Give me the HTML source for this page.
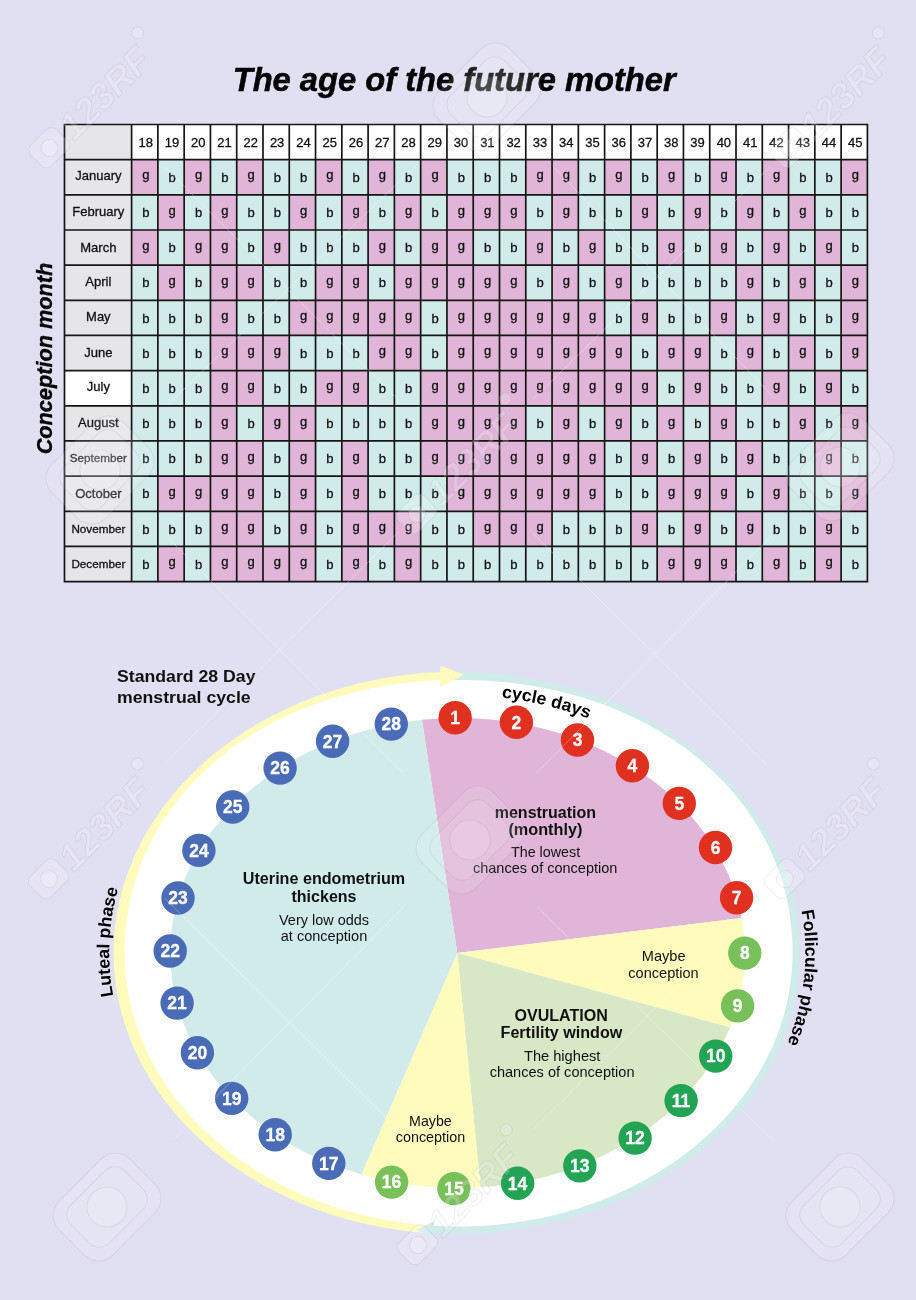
<!DOCTYPE html>
<html lang="en"><head><meta charset="utf-8"><title>The age of the future mother</title>
<style>
html,body{margin:0;padding:0;background:#e1dff2;}
body{width:916px;height:1300px;overflow:hidden;}
svg{display:block;font-family:"Liberation Sans", Arial, Helvetica, sans-serif;}
</style></head><body>
<svg width="916" height="1300" viewBox="0 0 916 1300">
<rect width="916" height="1300" fill="#e1dff2"/>
<rect x="64.5" y="124.5" width="67.10" height="457.10" fill="#e6e6e9"/>
<rect x="131.6" y="124.5" width="735.80" height="35.16" fill="#fff"/>
<rect x="64.5" y="370.63" width="67.10" height="35.16" fill="#fff"/>
<rect x="131.60" y="159.66" width="26.28" height="35.16" fill="#e0b5d7"/>
<rect x="157.88" y="159.66" width="26.28" height="35.16" fill="#d1ebeb"/>
<rect x="184.16" y="159.66" width="26.28" height="35.16" fill="#e0b5d7"/>
<rect x="210.44" y="159.66" width="26.28" height="35.16" fill="#d1ebeb"/>
<rect x="236.71" y="159.66" width="26.28" height="35.16" fill="#e0b5d7"/>
<rect x="262.99" y="159.66" width="52.56" height="35.16" fill="#d1ebeb"/>
<rect x="315.55" y="159.66" width="26.28" height="35.16" fill="#e0b5d7"/>
<rect x="341.83" y="159.66" width="26.28" height="35.16" fill="#d1ebeb"/>
<rect x="368.11" y="159.66" width="26.28" height="35.16" fill="#e0b5d7"/>
<rect x="394.39" y="159.66" width="26.28" height="35.16" fill="#d1ebeb"/>
<rect x="420.66" y="159.66" width="26.28" height="35.16" fill="#e0b5d7"/>
<rect x="446.94" y="159.66" width="78.84" height="35.16" fill="#d1ebeb"/>
<rect x="525.78" y="159.66" width="52.56" height="35.16" fill="#e0b5d7"/>
<rect x="578.34" y="159.66" width="26.28" height="35.16" fill="#d1ebeb"/>
<rect x="604.61" y="159.66" width="26.28" height="35.16" fill="#e0b5d7"/>
<rect x="630.89" y="159.66" width="26.28" height="35.16" fill="#d1ebeb"/>
<rect x="657.17" y="159.66" width="26.28" height="35.16" fill="#e0b5d7"/>
<rect x="683.45" y="159.66" width="26.28" height="35.16" fill="#d1ebeb"/>
<rect x="709.73" y="159.66" width="26.28" height="35.16" fill="#e0b5d7"/>
<rect x="736.01" y="159.66" width="26.28" height="35.16" fill="#d1ebeb"/>
<rect x="762.29" y="159.66" width="26.28" height="35.16" fill="#e0b5d7"/>
<rect x="788.56" y="159.66" width="52.56" height="35.16" fill="#d1ebeb"/>
<rect x="841.12" y="159.66" width="26.28" height="35.16" fill="#e0b5d7"/>
<rect x="131.60" y="194.82" width="26.28" height="35.16" fill="#d1ebeb"/>
<rect x="157.88" y="194.82" width="26.28" height="35.16" fill="#e0b5d7"/>
<rect x="184.16" y="194.82" width="26.28" height="35.16" fill="#d1ebeb"/>
<rect x="210.44" y="194.82" width="26.28" height="35.16" fill="#e0b5d7"/>
<rect x="236.71" y="194.82" width="52.56" height="35.16" fill="#d1ebeb"/>
<rect x="289.27" y="194.82" width="26.28" height="35.16" fill="#e0b5d7"/>
<rect x="315.55" y="194.82" width="26.28" height="35.16" fill="#d1ebeb"/>
<rect x="341.83" y="194.82" width="26.28" height="35.16" fill="#e0b5d7"/>
<rect x="368.11" y="194.82" width="26.28" height="35.16" fill="#d1ebeb"/>
<rect x="394.39" y="194.82" width="26.28" height="35.16" fill="#e0b5d7"/>
<rect x="420.66" y="194.82" width="26.28" height="35.16" fill="#d1ebeb"/>
<rect x="446.94" y="194.82" width="78.84" height="35.16" fill="#e0b5d7"/>
<rect x="525.78" y="194.82" width="26.28" height="35.16" fill="#d1ebeb"/>
<rect x="552.06" y="194.82" width="26.28" height="35.16" fill="#e0b5d7"/>
<rect x="578.34" y="194.82" width="52.56" height="35.16" fill="#d1ebeb"/>
<rect x="630.89" y="194.82" width="26.28" height="35.16" fill="#e0b5d7"/>
<rect x="657.17" y="194.82" width="26.28" height="35.16" fill="#d1ebeb"/>
<rect x="683.45" y="194.82" width="26.28" height="35.16" fill="#e0b5d7"/>
<rect x="709.73" y="194.82" width="26.28" height="35.16" fill="#d1ebeb"/>
<rect x="736.01" y="194.82" width="26.28" height="35.16" fill="#e0b5d7"/>
<rect x="762.29" y="194.82" width="26.28" height="35.16" fill="#d1ebeb"/>
<rect x="788.56" y="194.82" width="26.28" height="35.16" fill="#e0b5d7"/>
<rect x="814.84" y="194.82" width="52.56" height="35.16" fill="#d1ebeb"/>
<rect x="131.60" y="229.98" width="26.28" height="35.16" fill="#e0b5d7"/>
<rect x="157.88" y="229.98" width="26.28" height="35.16" fill="#d1ebeb"/>
<rect x="184.16" y="229.98" width="52.56" height="35.16" fill="#e0b5d7"/>
<rect x="236.71" y="229.98" width="26.28" height="35.16" fill="#d1ebeb"/>
<rect x="262.99" y="229.98" width="26.28" height="35.16" fill="#e0b5d7"/>
<rect x="289.27" y="229.98" width="78.84" height="35.16" fill="#d1ebeb"/>
<rect x="368.11" y="229.98" width="26.28" height="35.16" fill="#e0b5d7"/>
<rect x="394.39" y="229.98" width="26.28" height="35.16" fill="#d1ebeb"/>
<rect x="420.66" y="229.98" width="52.56" height="35.16" fill="#e0b5d7"/>
<rect x="473.22" y="229.98" width="52.56" height="35.16" fill="#d1ebeb"/>
<rect x="525.78" y="229.98" width="26.28" height="35.16" fill="#e0b5d7"/>
<rect x="552.06" y="229.98" width="26.28" height="35.16" fill="#d1ebeb"/>
<rect x="578.34" y="229.98" width="26.28" height="35.16" fill="#e0b5d7"/>
<rect x="604.61" y="229.98" width="52.56" height="35.16" fill="#d1ebeb"/>
<rect x="657.17" y="229.98" width="26.28" height="35.16" fill="#e0b5d7"/>
<rect x="683.45" y="229.98" width="26.28" height="35.16" fill="#d1ebeb"/>
<rect x="709.73" y="229.98" width="26.28" height="35.16" fill="#e0b5d7"/>
<rect x="736.01" y="229.98" width="26.28" height="35.16" fill="#d1ebeb"/>
<rect x="762.29" y="229.98" width="26.28" height="35.16" fill="#e0b5d7"/>
<rect x="788.56" y="229.98" width="26.28" height="35.16" fill="#d1ebeb"/>
<rect x="814.84" y="229.98" width="26.28" height="35.16" fill="#e0b5d7"/>
<rect x="841.12" y="229.98" width="26.28" height="35.16" fill="#d1ebeb"/>
<rect x="131.60" y="265.15" width="26.28" height="35.16" fill="#d1ebeb"/>
<rect x="157.88" y="265.15" width="26.28" height="35.16" fill="#e0b5d7"/>
<rect x="184.16" y="265.15" width="26.28" height="35.16" fill="#d1ebeb"/>
<rect x="210.44" y="265.15" width="52.56" height="35.16" fill="#e0b5d7"/>
<rect x="262.99" y="265.15" width="52.56" height="35.16" fill="#d1ebeb"/>
<rect x="315.55" y="265.15" width="52.56" height="35.16" fill="#e0b5d7"/>
<rect x="368.11" y="265.15" width="26.28" height="35.16" fill="#d1ebeb"/>
<rect x="394.39" y="265.15" width="131.39" height="35.16" fill="#e0b5d7"/>
<rect x="525.78" y="265.15" width="26.28" height="35.16" fill="#d1ebeb"/>
<rect x="552.06" y="265.15" width="26.28" height="35.16" fill="#e0b5d7"/>
<rect x="578.34" y="265.15" width="26.28" height="35.16" fill="#d1ebeb"/>
<rect x="604.61" y="265.15" width="26.28" height="35.16" fill="#e0b5d7"/>
<rect x="630.89" y="265.15" width="105.11" height="35.16" fill="#d1ebeb"/>
<rect x="736.01" y="265.15" width="26.28" height="35.16" fill="#e0b5d7"/>
<rect x="762.29" y="265.15" width="26.28" height="35.16" fill="#d1ebeb"/>
<rect x="788.56" y="265.15" width="26.28" height="35.16" fill="#e0b5d7"/>
<rect x="814.84" y="265.15" width="26.28" height="35.16" fill="#d1ebeb"/>
<rect x="841.12" y="265.15" width="26.28" height="35.16" fill="#e0b5d7"/>
<rect x="131.60" y="300.31" width="78.84" height="35.16" fill="#d1ebeb"/>
<rect x="210.44" y="300.31" width="26.28" height="35.16" fill="#e0b5d7"/>
<rect x="236.71" y="300.31" width="52.56" height="35.16" fill="#d1ebeb"/>
<rect x="289.27" y="300.31" width="131.39" height="35.16" fill="#e0b5d7"/>
<rect x="420.66" y="300.31" width="26.28" height="35.16" fill="#d1ebeb"/>
<rect x="446.94" y="300.31" width="157.67" height="35.16" fill="#e0b5d7"/>
<rect x="604.61" y="300.31" width="26.28" height="35.16" fill="#d1ebeb"/>
<rect x="630.89" y="300.31" width="26.28" height="35.16" fill="#e0b5d7"/>
<rect x="657.17" y="300.31" width="52.56" height="35.16" fill="#d1ebeb"/>
<rect x="709.73" y="300.31" width="26.28" height="35.16" fill="#e0b5d7"/>
<rect x="736.01" y="300.31" width="26.28" height="35.16" fill="#d1ebeb"/>
<rect x="762.29" y="300.31" width="26.28" height="35.16" fill="#e0b5d7"/>
<rect x="788.56" y="300.31" width="52.56" height="35.16" fill="#d1ebeb"/>
<rect x="841.12" y="300.31" width="26.28" height="35.16" fill="#e0b5d7"/>
<rect x="131.60" y="335.47" width="78.84" height="35.16" fill="#d1ebeb"/>
<rect x="210.44" y="335.47" width="78.84" height="35.16" fill="#e0b5d7"/>
<rect x="289.27" y="335.47" width="78.84" height="35.16" fill="#d1ebeb"/>
<rect x="368.11" y="335.47" width="52.56" height="35.16" fill="#e0b5d7"/>
<rect x="420.66" y="335.47" width="26.28" height="35.16" fill="#d1ebeb"/>
<rect x="446.94" y="335.47" width="183.95" height="35.16" fill="#e0b5d7"/>
<rect x="630.89" y="335.47" width="26.28" height="35.16" fill="#d1ebeb"/>
<rect x="657.17" y="335.47" width="52.56" height="35.16" fill="#e0b5d7"/>
<rect x="709.73" y="335.47" width="26.28" height="35.16" fill="#d1ebeb"/>
<rect x="736.01" y="335.47" width="26.28" height="35.16" fill="#e0b5d7"/>
<rect x="762.29" y="335.47" width="26.28" height="35.16" fill="#d1ebeb"/>
<rect x="788.56" y="335.47" width="26.28" height="35.16" fill="#e0b5d7"/>
<rect x="814.84" y="335.47" width="26.28" height="35.16" fill="#d1ebeb"/>
<rect x="841.12" y="335.47" width="26.28" height="35.16" fill="#e0b5d7"/>
<rect x="131.60" y="370.63" width="78.84" height="35.16" fill="#d1ebeb"/>
<rect x="210.44" y="370.63" width="52.56" height="35.16" fill="#e0b5d7"/>
<rect x="262.99" y="370.63" width="52.56" height="35.16" fill="#d1ebeb"/>
<rect x="315.55" y="370.63" width="52.56" height="35.16" fill="#e0b5d7"/>
<rect x="368.11" y="370.63" width="52.56" height="35.16" fill="#d1ebeb"/>
<rect x="420.66" y="370.63" width="236.51" height="35.16" fill="#e0b5d7"/>
<rect x="657.17" y="370.63" width="26.28" height="35.16" fill="#d1ebeb"/>
<rect x="683.45" y="370.63" width="26.28" height="35.16" fill="#e0b5d7"/>
<rect x="709.73" y="370.63" width="52.56" height="35.16" fill="#d1ebeb"/>
<rect x="762.29" y="370.63" width="26.28" height="35.16" fill="#e0b5d7"/>
<rect x="788.56" y="370.63" width="26.28" height="35.16" fill="#d1ebeb"/>
<rect x="814.84" y="370.63" width="26.28" height="35.16" fill="#e0b5d7"/>
<rect x="841.12" y="370.63" width="26.28" height="35.16" fill="#d1ebeb"/>
<rect x="131.60" y="405.79" width="78.84" height="35.16" fill="#d1ebeb"/>
<rect x="210.44" y="405.79" width="26.28" height="35.16" fill="#e0b5d7"/>
<rect x="236.71" y="405.79" width="26.28" height="35.16" fill="#d1ebeb"/>
<rect x="262.99" y="405.79" width="52.56" height="35.16" fill="#e0b5d7"/>
<rect x="315.55" y="405.79" width="105.11" height="35.16" fill="#d1ebeb"/>
<rect x="420.66" y="405.79" width="105.11" height="35.16" fill="#e0b5d7"/>
<rect x="525.78" y="405.79" width="26.28" height="35.16" fill="#d1ebeb"/>
<rect x="552.06" y="405.79" width="26.28" height="35.16" fill="#e0b5d7"/>
<rect x="578.34" y="405.79" width="26.28" height="35.16" fill="#d1ebeb"/>
<rect x="604.61" y="405.79" width="26.28" height="35.16" fill="#e0b5d7"/>
<rect x="630.89" y="405.79" width="26.28" height="35.16" fill="#d1ebeb"/>
<rect x="657.17" y="405.79" width="26.28" height="35.16" fill="#e0b5d7"/>
<rect x="683.45" y="405.79" width="26.28" height="35.16" fill="#d1ebeb"/>
<rect x="709.73" y="405.79" width="26.28" height="35.16" fill="#e0b5d7"/>
<rect x="736.01" y="405.79" width="52.56" height="35.16" fill="#d1ebeb"/>
<rect x="788.56" y="405.79" width="26.28" height="35.16" fill="#e0b5d7"/>
<rect x="814.84" y="405.79" width="26.28" height="35.16" fill="#d1ebeb"/>
<rect x="841.12" y="405.79" width="26.28" height="35.16" fill="#e0b5d7"/>
<rect x="131.60" y="440.95" width="78.84" height="35.16" fill="#d1ebeb"/>
<rect x="210.44" y="440.95" width="52.56" height="35.16" fill="#e0b5d7"/>
<rect x="262.99" y="440.95" width="26.28" height="35.16" fill="#d1ebeb"/>
<rect x="289.27" y="440.95" width="26.28" height="35.16" fill="#e0b5d7"/>
<rect x="315.55" y="440.95" width="26.28" height="35.16" fill="#d1ebeb"/>
<rect x="341.83" y="440.95" width="26.28" height="35.16" fill="#e0b5d7"/>
<rect x="368.11" y="440.95" width="52.56" height="35.16" fill="#d1ebeb"/>
<rect x="420.66" y="440.95" width="183.95" height="35.16" fill="#e0b5d7"/>
<rect x="604.61" y="440.95" width="26.28" height="35.16" fill="#d1ebeb"/>
<rect x="630.89" y="440.95" width="26.28" height="35.16" fill="#e0b5d7"/>
<rect x="657.17" y="440.95" width="26.28" height="35.16" fill="#d1ebeb"/>
<rect x="683.45" y="440.95" width="26.28" height="35.16" fill="#e0b5d7"/>
<rect x="709.73" y="440.95" width="26.28" height="35.16" fill="#d1ebeb"/>
<rect x="736.01" y="440.95" width="26.28" height="35.16" fill="#e0b5d7"/>
<rect x="762.29" y="440.95" width="52.56" height="35.16" fill="#d1ebeb"/>
<rect x="814.84" y="440.95" width="26.28" height="35.16" fill="#e0b5d7"/>
<rect x="841.12" y="440.95" width="26.28" height="35.16" fill="#d1ebeb"/>
<rect x="131.60" y="476.12" width="26.28" height="35.16" fill="#d1ebeb"/>
<rect x="157.88" y="476.12" width="105.11" height="35.16" fill="#e0b5d7"/>
<rect x="262.99" y="476.12" width="26.28" height="35.16" fill="#d1ebeb"/>
<rect x="289.27" y="476.12" width="26.28" height="35.16" fill="#e0b5d7"/>
<rect x="315.55" y="476.12" width="26.28" height="35.16" fill="#d1ebeb"/>
<rect x="341.83" y="476.12" width="26.28" height="35.16" fill="#e0b5d7"/>
<rect x="368.11" y="476.12" width="78.84" height="35.16" fill="#d1ebeb"/>
<rect x="446.94" y="476.12" width="157.67" height="35.16" fill="#e0b5d7"/>
<rect x="604.61" y="476.12" width="52.56" height="35.16" fill="#d1ebeb"/>
<rect x="657.17" y="476.12" width="78.84" height="35.16" fill="#e0b5d7"/>
<rect x="736.01" y="476.12" width="26.28" height="35.16" fill="#d1ebeb"/>
<rect x="762.29" y="476.12" width="26.28" height="35.16" fill="#e0b5d7"/>
<rect x="788.56" y="476.12" width="52.56" height="35.16" fill="#d1ebeb"/>
<rect x="841.12" y="476.12" width="26.28" height="35.16" fill="#e0b5d7"/>
<rect x="131.60" y="511.28" width="78.84" height="35.16" fill="#d1ebeb"/>
<rect x="210.44" y="511.28" width="52.56" height="35.16" fill="#e0b5d7"/>
<rect x="262.99" y="511.28" width="26.28" height="35.16" fill="#d1ebeb"/>
<rect x="289.27" y="511.28" width="26.28" height="35.16" fill="#e0b5d7"/>
<rect x="315.55" y="511.28" width="26.28" height="35.16" fill="#d1ebeb"/>
<rect x="341.83" y="511.28" width="78.84" height="35.16" fill="#e0b5d7"/>
<rect x="420.66" y="511.28" width="52.56" height="35.16" fill="#d1ebeb"/>
<rect x="473.22" y="511.28" width="78.84" height="35.16" fill="#e0b5d7"/>
<rect x="552.06" y="511.28" width="78.84" height="35.16" fill="#d1ebeb"/>
<rect x="630.89" y="511.28" width="26.28" height="35.16" fill="#e0b5d7"/>
<rect x="657.17" y="511.28" width="26.28" height="35.16" fill="#d1ebeb"/>
<rect x="683.45" y="511.28" width="26.28" height="35.16" fill="#e0b5d7"/>
<rect x="709.73" y="511.28" width="26.28" height="35.16" fill="#d1ebeb"/>
<rect x="736.01" y="511.28" width="26.28" height="35.16" fill="#e0b5d7"/>
<rect x="762.29" y="511.28" width="52.56" height="35.16" fill="#d1ebeb"/>
<rect x="814.84" y="511.28" width="26.28" height="35.16" fill="#e0b5d7"/>
<rect x="841.12" y="511.28" width="26.28" height="35.16" fill="#d1ebeb"/>
<rect x="131.60" y="546.44" width="26.28" height="35.16" fill="#d1ebeb"/>
<rect x="157.88" y="546.44" width="26.28" height="35.16" fill="#e0b5d7"/>
<rect x="184.16" y="546.44" width="26.28" height="35.16" fill="#d1ebeb"/>
<rect x="210.44" y="546.44" width="105.11" height="35.16" fill="#e0b5d7"/>
<rect x="315.55" y="546.44" width="26.28" height="35.16" fill="#d1ebeb"/>
<rect x="341.83" y="546.44" width="26.28" height="35.16" fill="#e0b5d7"/>
<rect x="368.11" y="546.44" width="26.28" height="35.16" fill="#d1ebeb"/>
<rect x="394.39" y="546.44" width="26.28" height="35.16" fill="#e0b5d7"/>
<rect x="420.66" y="546.44" width="236.51" height="35.16" fill="#d1ebeb"/>
<rect x="657.17" y="546.44" width="78.84" height="35.16" fill="#e0b5d7"/>
<rect x="736.01" y="546.44" width="26.28" height="35.16" fill="#d1ebeb"/>
<rect x="762.29" y="546.44" width="26.28" height="35.16" fill="#e0b5d7"/>
<rect x="788.56" y="546.44" width="26.28" height="35.16" fill="#d1ebeb"/>
<rect x="814.84" y="546.44" width="26.28" height="35.16" fill="#e0b5d7"/>
<rect x="841.12" y="546.44" width="26.28" height="35.16" fill="#d1ebeb"/>
<path d="M131.60 124.5V581.6M157.88 124.5V581.6M184.16 124.5V581.6M210.44 124.5V581.6M236.71 124.5V581.6M262.99 124.5V581.6M289.27 124.5V581.6M315.55 124.5V581.6M341.83 124.5V581.6M368.11 124.5V581.6M394.39 124.5V581.6M420.66 124.5V581.6M446.94 124.5V581.6M473.22 124.5V581.6M499.50 124.5V581.6M525.78 124.5V581.6M552.06 124.5V581.6M578.34 124.5V581.6M604.61 124.5V581.6M630.89 124.5V581.6M657.17 124.5V581.6M683.45 124.5V581.6M709.73 124.5V581.6M736.01 124.5V581.6M762.29 124.5V581.6M788.56 124.5V581.6M814.84 124.5V581.6M841.12 124.5V581.6M867.40 124.5V581.6M64.5 124.5V581.6M64.5 124.50H867.4M64.5 159.66H867.4M64.5 194.82H867.4M64.5 229.98H867.4M64.5 265.15H867.4M64.5 300.31H867.4M64.5 335.47H867.4M64.5 370.63H867.4M64.5 405.79H867.4M64.5 440.95H867.4M64.5 476.12H867.4M64.5 511.28H867.4M64.5 546.44H867.4M64.5 581.60H867.4" stroke="#161616" stroke-width="1.7" fill="none" stroke-linecap="square"/>
<g font-size="13" text-anchor="middle" fill="#111" stroke="#111" stroke-width="0.3">
<text x="145.74" y="146.90">18</text>
<text x="172.02" y="146.90">19</text>
<text x="198.30" y="146.90">20</text>
<text x="224.57" y="146.90">21</text>
<text x="250.85" y="146.90">22</text>
<text x="277.13" y="146.90">23</text>
<text x="303.41" y="146.90">24</text>
<text x="329.69" y="146.90">25</text>
<text x="355.97" y="146.90">26</text>
<text x="382.25" y="146.90">27</text>
<text x="408.52" y="146.90">28</text>
<text x="434.80" y="146.90">29</text>
<text x="461.08" y="146.90">30</text>
<text x="487.36" y="146.90">31</text>
<text x="513.64" y="146.90">32</text>
<text x="539.92" y="146.90">33</text>
<text x="566.20" y="146.90">34</text>
<text x="592.48" y="146.90">35</text>
<text x="618.75" y="146.90">36</text>
<text x="645.03" y="146.90">37</text>
<text x="671.31" y="146.90">38</text>
<text x="697.59" y="146.90">39</text>
<text x="723.87" y="146.90">40</text>
<text x="750.15" y="146.90">41</text>
<text x="776.43" y="146.90">42</text>
<text x="802.70" y="146.90">43</text>
<text x="828.98" y="146.90">44</text>
<text x="855.26" y="146.90">45</text>
</g>
<text x="98.35" y="180.46" font-size="13" text-anchor="middle" fill="#111" stroke="#111" stroke-width="0.3">January</text>
<text x="98.35" y="215.62" font-size="13" text-anchor="middle" fill="#111" stroke="#111" stroke-width="0.3">February</text>
<text x="98.35" y="251.98" font-size="13" text-anchor="middle" fill="#111" stroke="#111" stroke-width="0.3">March</text>
<text x="98.35" y="285.95" font-size="13" text-anchor="middle" fill="#111" stroke="#111" stroke-width="0.3">April</text>
<text x="98.35" y="321.11" font-size="13" text-anchor="middle" fill="#111" stroke="#111" stroke-width="0.3">May</text>
<text x="98.35" y="357.47" font-size="13" text-anchor="middle" fill="#111" stroke="#111" stroke-width="0.3">June</text>
<text x="98.35" y="391.43" font-size="13" text-anchor="middle" fill="#111" stroke="#111" stroke-width="0.3">July</text>
<text x="98.35" y="426.59" font-size="13" text-anchor="middle" fill="#111" stroke="#111" stroke-width="0.3">August</text>
<text x="98.35" y="461.75" font-size="11.7" text-anchor="middle" fill="#111" stroke="#111" stroke-width="0.3">September</text>
<text x="98.35" y="498.12" font-size="13" text-anchor="middle" fill="#111" stroke="#111" stroke-width="0.3">October</text>
<text x="98.35" y="533.28" font-size="11.7" text-anchor="middle" fill="#111" stroke="#111" stroke-width="0.3">November</text>
<text x="98.35" y="568.44" font-size="11.7" text-anchor="middle" fill="#111" stroke="#111" stroke-width="0.3">December</text>
<g font-size="13" text-anchor="middle" fill="#111" stroke="#111" stroke-width="0.3">
<text x="145.94" y="179.46">g</text>
<text x="172.22" y="181.96">b</text>
<text x="198.50" y="179.46">g</text>
<text x="224.77" y="181.96">b</text>
<text x="251.05" y="179.46">g</text>
<text x="277.33" y="181.96">b</text>
<text x="303.61" y="181.96">b</text>
<text x="329.89" y="179.46">g</text>
<text x="356.17" y="181.96">b</text>
<text x="382.45" y="179.46">g</text>
<text x="408.72" y="181.96">b</text>
<text x="435.00" y="179.46">g</text>
<text x="461.28" y="181.96">b</text>
<text x="487.56" y="181.96">b</text>
<text x="513.84" y="181.96">b</text>
<text x="540.12" y="179.46">g</text>
<text x="566.40" y="179.46">g</text>
<text x="592.68" y="181.96">b</text>
<text x="618.95" y="179.46">g</text>
<text x="645.23" y="181.96">b</text>
<text x="671.51" y="179.46">g</text>
<text x="697.79" y="181.96">b</text>
<text x="724.07" y="179.46">g</text>
<text x="750.35" y="181.96">b</text>
<text x="776.63" y="179.46">g</text>
<text x="802.90" y="181.96">b</text>
<text x="829.18" y="181.96">b</text>
<text x="855.46" y="179.46">g</text>
<text x="145.94" y="217.12">b</text>
<text x="172.22" y="214.62">g</text>
<text x="198.50" y="217.12">b</text>
<text x="224.77" y="214.62">g</text>
<text x="251.05" y="217.12">b</text>
<text x="277.33" y="217.12">b</text>
<text x="303.61" y="214.62">g</text>
<text x="329.89" y="217.12">b</text>
<text x="356.17" y="214.62">g</text>
<text x="382.45" y="217.12">b</text>
<text x="408.72" y="214.62">g</text>
<text x="435.00" y="217.12">b</text>
<text x="461.28" y="214.62">g</text>
<text x="487.56" y="214.62">g</text>
<text x="513.84" y="214.62">g</text>
<text x="540.12" y="217.12">b</text>
<text x="566.40" y="214.62">g</text>
<text x="592.68" y="217.12">b</text>
<text x="618.95" y="217.12">b</text>
<text x="645.23" y="214.62">g</text>
<text x="671.51" y="217.12">b</text>
<text x="697.79" y="214.62">g</text>
<text x="724.07" y="217.12">b</text>
<text x="750.35" y="214.62">g</text>
<text x="776.63" y="217.12">b</text>
<text x="802.90" y="214.62">g</text>
<text x="829.18" y="217.12">b</text>
<text x="855.46" y="217.12">b</text>
<text x="145.94" y="249.78">g</text>
<text x="172.22" y="252.28">b</text>
<text x="198.50" y="249.78">g</text>
<text x="224.77" y="249.78">g</text>
<text x="251.05" y="252.28">b</text>
<text x="277.33" y="249.78">g</text>
<text x="303.61" y="252.28">b</text>
<text x="329.89" y="252.28">b</text>
<text x="356.17" y="252.28">b</text>
<text x="382.45" y="249.78">g</text>
<text x="408.72" y="252.28">b</text>
<text x="435.00" y="249.78">g</text>
<text x="461.28" y="249.78">g</text>
<text x="487.56" y="252.28">b</text>
<text x="513.84" y="252.28">b</text>
<text x="540.12" y="249.78">g</text>
<text x="566.40" y="252.28">b</text>
<text x="592.68" y="249.78">g</text>
<text x="618.95" y="252.28">b</text>
<text x="645.23" y="252.28">b</text>
<text x="671.51" y="249.78">g</text>
<text x="697.79" y="252.28">b</text>
<text x="724.07" y="249.78">g</text>
<text x="750.35" y="252.28">b</text>
<text x="776.63" y="249.78">g</text>
<text x="802.90" y="252.28">b</text>
<text x="829.18" y="249.78">g</text>
<text x="855.46" y="252.28">b</text>
<text x="145.94" y="287.45">b</text>
<text x="172.22" y="284.95">g</text>
<text x="198.50" y="287.45">b</text>
<text x="224.77" y="284.95">g</text>
<text x="251.05" y="284.95">g</text>
<text x="277.33" y="287.45">b</text>
<text x="303.61" y="287.45">b</text>
<text x="329.89" y="284.95">g</text>
<text x="356.17" y="284.95">g</text>
<text x="382.45" y="287.45">b</text>
<text x="408.72" y="284.95">g</text>
<text x="435.00" y="284.95">g</text>
<text x="461.28" y="284.95">g</text>
<text x="487.56" y="284.95">g</text>
<text x="513.84" y="284.95">g</text>
<text x="540.12" y="287.45">b</text>
<text x="566.40" y="284.95">g</text>
<text x="592.68" y="287.45">b</text>
<text x="618.95" y="284.95">g</text>
<text x="645.23" y="287.45">b</text>
<text x="671.51" y="287.45">b</text>
<text x="697.79" y="287.45">b</text>
<text x="724.07" y="287.45">b</text>
<text x="750.35" y="284.95">g</text>
<text x="776.63" y="287.45">b</text>
<text x="802.90" y="284.95">g</text>
<text x="829.18" y="287.45">b</text>
<text x="855.46" y="284.95">g</text>
<text x="145.94" y="322.61">b</text>
<text x="172.22" y="322.61">b</text>
<text x="198.50" y="322.61">b</text>
<text x="224.77" y="320.11">g</text>
<text x="251.05" y="322.61">b</text>
<text x="277.33" y="322.61">b</text>
<text x="303.61" y="320.11">g</text>
<text x="329.89" y="320.11">g</text>
<text x="356.17" y="320.11">g</text>
<text x="382.45" y="320.11">g</text>
<text x="408.72" y="320.11">g</text>
<text x="435.00" y="322.61">b</text>
<text x="461.28" y="320.11">g</text>
<text x="487.56" y="320.11">g</text>
<text x="513.84" y="320.11">g</text>
<text x="540.12" y="320.11">g</text>
<text x="566.40" y="320.11">g</text>
<text x="592.68" y="320.11">g</text>
<text x="618.95" y="322.61">b</text>
<text x="645.23" y="320.11">g</text>
<text x="671.51" y="322.61">b</text>
<text x="697.79" y="322.61">b</text>
<text x="724.07" y="320.11">g</text>
<text x="750.35" y="322.61">b</text>
<text x="776.63" y="320.11">g</text>
<text x="802.90" y="322.61">b</text>
<text x="829.18" y="322.61">b</text>
<text x="855.46" y="320.11">g</text>
<text x="145.94" y="357.77">b</text>
<text x="172.22" y="357.77">b</text>
<text x="198.50" y="357.77">b</text>
<text x="224.77" y="355.27">g</text>
<text x="251.05" y="355.27">g</text>
<text x="277.33" y="355.27">g</text>
<text x="303.61" y="357.77">b</text>
<text x="329.89" y="357.77">b</text>
<text x="356.17" y="357.77">b</text>
<text x="382.45" y="355.27">g</text>
<text x="408.72" y="355.27">g</text>
<text x="435.00" y="357.77">b</text>
<text x="461.28" y="355.27">g</text>
<text x="487.56" y="355.27">g</text>
<text x="513.84" y="355.27">g</text>
<text x="540.12" y="355.27">g</text>
<text x="566.40" y="355.27">g</text>
<text x="592.68" y="355.27">g</text>
<text x="618.95" y="355.27">g</text>
<text x="645.23" y="357.77">b</text>
<text x="671.51" y="355.27">g</text>
<text x="697.79" y="355.27">g</text>
<text x="724.07" y="357.77">b</text>
<text x="750.35" y="355.27">g</text>
<text x="776.63" y="357.77">b</text>
<text x="802.90" y="355.27">g</text>
<text x="829.18" y="357.77">b</text>
<text x="855.46" y="355.27">g</text>
<text x="145.94" y="392.93">b</text>
<text x="172.22" y="392.93">b</text>
<text x="198.50" y="392.93">b</text>
<text x="224.77" y="390.43">g</text>
<text x="251.05" y="390.43">g</text>
<text x="277.33" y="392.93">b</text>
<text x="303.61" y="392.93">b</text>
<text x="329.89" y="390.43">g</text>
<text x="356.17" y="390.43">g</text>
<text x="382.45" y="392.93">b</text>
<text x="408.72" y="392.93">b</text>
<text x="435.00" y="390.43">g</text>
<text x="461.28" y="390.43">g</text>
<text x="487.56" y="390.43">g</text>
<text x="513.84" y="390.43">g</text>
<text x="540.12" y="390.43">g</text>
<text x="566.40" y="390.43">g</text>
<text x="592.68" y="390.43">g</text>
<text x="618.95" y="390.43">g</text>
<text x="645.23" y="390.43">g</text>
<text x="671.51" y="392.93">b</text>
<text x="697.79" y="390.43">g</text>
<text x="724.07" y="392.93">b</text>
<text x="750.35" y="392.93">b</text>
<text x="776.63" y="390.43">g</text>
<text x="802.90" y="392.93">b</text>
<text x="829.18" y="390.43">g</text>
<text x="855.46" y="392.93">b</text>
<text x="145.94" y="428.09">b</text>
<text x="172.22" y="428.09">b</text>
<text x="198.50" y="428.09">b</text>
<text x="224.77" y="425.59">g</text>
<text x="251.05" y="428.09">b</text>
<text x="277.33" y="425.59">g</text>
<text x="303.61" y="425.59">g</text>
<text x="329.89" y="428.09">b</text>
<text x="356.17" y="428.09">b</text>
<text x="382.45" y="428.09">b</text>
<text x="408.72" y="428.09">b</text>
<text x="435.00" y="425.59">g</text>
<text x="461.28" y="425.59">g</text>
<text x="487.56" y="425.59">g</text>
<text x="513.84" y="425.59">g</text>
<text x="540.12" y="428.09">b</text>
<text x="566.40" y="425.59">g</text>
<text x="592.68" y="428.09">b</text>
<text x="618.95" y="425.59">g</text>
<text x="645.23" y="428.09">b</text>
<text x="671.51" y="425.59">g</text>
<text x="697.79" y="428.09">b</text>
<text x="724.07" y="425.59">g</text>
<text x="750.35" y="428.09">b</text>
<text x="776.63" y="428.09">b</text>
<text x="802.90" y="425.59">g</text>
<text x="829.18" y="428.09">b</text>
<text x="855.46" y="425.59">g</text>
<text x="145.94" y="463.25">b</text>
<text x="172.22" y="463.25">b</text>
<text x="198.50" y="463.25">b</text>
<text x="224.77" y="460.75">g</text>
<text x="251.05" y="460.75">g</text>
<text x="277.33" y="463.25">b</text>
<text x="303.61" y="460.75">g</text>
<text x="329.89" y="463.25">b</text>
<text x="356.17" y="460.75">g</text>
<text x="382.45" y="463.25">b</text>
<text x="408.72" y="463.25">b</text>
<text x="435.00" y="460.75">g</text>
<text x="461.28" y="460.75">g</text>
<text x="487.56" y="460.75">g</text>
<text x="513.84" y="460.75">g</text>
<text x="540.12" y="460.75">g</text>
<text x="566.40" y="460.75">g</text>
<text x="592.68" y="460.75">g</text>
<text x="618.95" y="463.25">b</text>
<text x="645.23" y="460.75">g</text>
<text x="671.51" y="463.25">b</text>
<text x="697.79" y="460.75">g</text>
<text x="724.07" y="463.25">b</text>
<text x="750.35" y="460.75">g</text>
<text x="776.63" y="463.25">b</text>
<text x="802.90" y="463.25">b</text>
<text x="829.18" y="460.75">g</text>
<text x="855.46" y="463.25">b</text>
<text x="145.94" y="498.42">b</text>
<text x="172.22" y="495.92">g</text>
<text x="198.50" y="495.92">g</text>
<text x="224.77" y="495.92">g</text>
<text x="251.05" y="495.92">g</text>
<text x="277.33" y="498.42">b</text>
<text x="303.61" y="495.92">g</text>
<text x="329.89" y="498.42">b</text>
<text x="356.17" y="495.92">g</text>
<text x="382.45" y="498.42">b</text>
<text x="408.72" y="498.42">b</text>
<text x="435.00" y="498.42">b</text>
<text x="461.28" y="495.92">g</text>
<text x="487.56" y="495.92">g</text>
<text x="513.84" y="495.92">g</text>
<text x="540.12" y="495.92">g</text>
<text x="566.40" y="495.92">g</text>
<text x="592.68" y="495.92">g</text>
<text x="618.95" y="498.42">b</text>
<text x="645.23" y="498.42">b</text>
<text x="671.51" y="495.92">g</text>
<text x="697.79" y="495.92">g</text>
<text x="724.07" y="495.92">g</text>
<text x="750.35" y="498.42">b</text>
<text x="776.63" y="495.92">g</text>
<text x="802.90" y="498.42">b</text>
<text x="829.18" y="498.42">b</text>
<text x="855.46" y="495.92">g</text>
<text x="145.94" y="533.58">b</text>
<text x="172.22" y="533.58">b</text>
<text x="198.50" y="533.58">b</text>
<text x="224.77" y="531.08">g</text>
<text x="251.05" y="531.08">g</text>
<text x="277.33" y="533.58">b</text>
<text x="303.61" y="531.08">g</text>
<text x="329.89" y="533.58">b</text>
<text x="356.17" y="531.08">g</text>
<text x="382.45" y="531.08">g</text>
<text x="408.72" y="531.08">g</text>
<text x="435.00" y="533.58">b</text>
<text x="461.28" y="533.58">b</text>
<text x="487.56" y="531.08">g</text>
<text x="513.84" y="531.08">g</text>
<text x="540.12" y="531.08">g</text>
<text x="566.40" y="533.58">b</text>
<text x="592.68" y="533.58">b</text>
<text x="618.95" y="533.58">b</text>
<text x="645.23" y="531.08">g</text>
<text x="671.51" y="533.58">b</text>
<text x="697.79" y="531.08">g</text>
<text x="724.07" y="533.58">b</text>
<text x="750.35" y="531.08">g</text>
<text x="776.63" y="533.58">b</text>
<text x="802.90" y="533.58">b</text>
<text x="829.18" y="531.08">g</text>
<text x="855.46" y="533.58">b</text>
<text x="145.94" y="568.74">b</text>
<text x="172.22" y="566.24">g</text>
<text x="198.50" y="568.74">b</text>
<text x="224.77" y="566.24">g</text>
<text x="251.05" y="566.24">g</text>
<text x="277.33" y="566.24">g</text>
<text x="303.61" y="566.24">g</text>
<text x="329.89" y="568.74">b</text>
<text x="356.17" y="566.24">g</text>
<text x="382.45" y="568.74">b</text>
<text x="408.72" y="566.24">g</text>
<text x="435.00" y="568.74">b</text>
<text x="461.28" y="568.74">b</text>
<text x="487.56" y="568.74">b</text>
<text x="513.84" y="568.74">b</text>
<text x="540.12" y="568.74">b</text>
<text x="566.40" y="568.74">b</text>
<text x="592.68" y="568.74">b</text>
<text x="618.95" y="568.74">b</text>
<text x="645.23" y="568.74">b</text>
<text x="671.51" y="566.24">g</text>
<text x="697.79" y="566.24">g</text>
<text x="724.07" y="566.24">g</text>
<text x="750.35" y="568.74">b</text>
<text x="776.63" y="566.24">g</text>
<text x="802.90" y="568.74">b</text>
<text x="829.18" y="566.24">g</text>
<text x="855.46" y="568.74">b</text>
</g>
<text x="454.2" y="91" font-size="33" font-weight="bold" font-style="italic" text-anchor="middle" textLength="443" lengthAdjust="spacingAndGlyphs" fill="#000" stroke="#000" stroke-width="0.5">The age of the future mother</text>
<text transform="translate(51.5 358.6) rotate(-90)" font-size="21.5" font-weight="bold" font-style="italic" text-anchor="middle" textLength="191.5" lengthAdjust="spacingAndGlyphs" fill="#000" stroke="#000" stroke-width="0.35">Conception month</text>
<path d="M800.0 952.9L799.9 957.8L799.8 962.7L799.5 967.6L799.2 972.5L798.7 977.4L798.1 982.2L797.4 987.1L796.7 992.0L795.8 996.8L794.8 1001.7L793.7 1006.5L792.5 1011.3L791.2 1016.1L789.8 1020.9L788.3 1025.6L786.7 1030.3L785.0 1035.1L783.2 1039.7L781.3 1044.4L779.3 1049.0L777.2 1053.6L775.0 1058.2L772.7 1062.7L770.3 1067.2L767.8 1071.7L765.3 1076.1L762.6 1080.5L759.8 1084.8L757.0 1089.2L754.0 1093.4L751.0 1097.7L747.9 1101.8L744.6 1106.0L741.3 1110.1L737.9 1114.1L734.5 1118.1L730.9 1122.1L727.2 1125.9L723.5 1129.8L719.7 1133.6L715.8 1137.3L711.8 1141.0L707.8 1144.6L703.7 1148.2L699.5 1151.7L695.2 1155.1L690.9 1158.5L686.4 1161.8L682.0 1165.0L677.4 1168.2L672.8 1171.3L668.1 1174.4L663.3 1177.4L658.5 1180.3L653.7 1183.2L648.7 1185.9L643.7 1188.6L638.7 1191.3L633.6 1193.8L628.4 1196.3L623.2 1198.7L617.9 1201.1L612.6 1203.4L607.2 1205.5L601.8 1207.7L596.4 1209.7L590.9 1211.6L585.4 1213.5L579.8 1215.3L574.2 1217.0L568.5 1218.7L562.9 1220.2L557.1 1221.7L551.4 1223.1L545.6 1224.4L539.8 1225.6L534.0 1226.8L528.2 1227.9L522.3 1228.8L516.4 1229.7L510.5 1230.5L504.6 1231.3L498.6 1231.9L492.7 1232.5L486.7 1232.9L480.7 1233.3L474.8 1233.6L468.8 1233.8L462.8 1234.0L456.8 1234.0L450.8 1234.0L444.8 1233.8L438.8 1233.6L432.9 1233.3L426.9 1232.9L420.9 1232.5L415.0 1231.9L409.0 1231.3L403.1 1230.5L397.2 1229.7L391.3 1228.8L385.4 1227.9L379.6 1226.8L373.8 1225.6L368.0 1224.4L362.2 1223.1L356.5 1221.7L350.7 1220.2L345.1 1218.7L339.4 1217.0L333.8 1215.3L328.2 1213.5L322.7 1211.6L317.2 1209.7L311.8 1207.7L306.4 1205.5L301.0 1203.4L295.7 1201.1L290.4 1198.7L285.2 1196.3L280.0 1193.8L274.9 1191.3L269.9 1188.6L264.9 1185.9L259.9 1183.2L255.1 1180.3L250.3 1177.4L245.5 1174.4L240.8 1171.3L236.2 1168.2L231.6 1165.0L227.2 1161.8L222.7 1158.5L218.4 1155.1L214.1 1151.7L209.9 1148.2L205.8 1144.6L201.8 1141.0L197.8 1137.3L193.9 1133.6L190.1 1129.8L186.4 1125.9L182.7 1122.1L179.1 1118.1L175.7 1114.1L172.3 1110.1L169.0 1106.0L165.7 1101.8L162.6 1097.7L159.6 1093.4L156.6 1089.2L153.8 1084.8L151.0 1080.5L148.3 1076.1L145.8 1071.7L143.3 1067.2L140.9 1062.7L138.6 1058.2L136.4 1053.6L134.3 1049.0L132.3 1044.4L130.4 1039.7L128.6 1035.1L126.9 1030.3L125.3 1025.6L123.8 1020.9L122.4 1016.1L121.1 1011.3L119.9 1006.5L118.8 1001.7L117.8 996.8L116.9 992.0L116.2 987.1L115.5 982.2L114.9 977.4L114.4 972.5L114.1 967.6L113.8 962.7L113.7 957.8L113.6 952.9L113.7 947.9L113.8 943.0L114.1 938.1L114.4 933.2L114.9 928.3L115.5 923.5L116.2 918.6L116.9 913.7L117.8 908.9L118.8 904.0L119.9 899.2L121.1 894.4L122.4 889.6L123.8 884.8L125.3 880.1L126.9 875.4L128.6 870.6L130.4 866.0L132.3 861.3L134.3 856.7L136.4 852.1L138.6 847.5L140.9 843.0L143.3 838.5L145.8 834.0L148.3 829.6L151.0 825.2L153.8 820.9L156.6 816.5L159.6 812.3L162.6 808.0L165.7 803.9L169.0 799.7L172.3 795.6L175.7 791.6L179.1 787.6L182.7 783.6L186.4 779.8L190.1 775.9L193.9 772.1L197.8 768.4L201.8 764.7L205.8 761.1L209.9 757.5L214.1 754.0L218.4 750.6L222.7 747.2L227.2 743.9L231.6 740.7L236.2 737.5L240.8 734.4L245.5 731.3L250.3 728.3L255.1 725.4L259.9 722.5L264.9 719.8L269.9 717.1L274.9 714.4L280.0 711.9L285.2 709.4L290.4 707.0L295.7 704.6L301.0 702.3L306.4 700.2L311.8 698.0L317.2 696.0L322.7 694.1L328.2 692.2L333.8 690.4L339.4 688.7L345.1 687.0L350.7 685.5L356.5 684.0L362.2 682.6L368.0 681.3L373.8 680.1L379.6 678.9L385.4 677.8L391.3 676.9L397.2 676.0L403.1 675.2L409.0 674.4L415.0 673.8L420.9 673.2L426.9 672.8L432.9 672.4L438.8 672.1L444.8 671.9L450.8 671.7L456.8 671.7L462.8 671.7L468.8 671.9L474.8 672.1L480.7 672.4L486.7 672.8L492.7 673.2L498.6 673.8L504.6 674.4L510.5 675.2L516.4 676.0L522.3 676.9L528.2 677.8L534.0 678.9L539.8 680.1L545.6 681.3L551.4 682.6L557.1 684.0L562.9 685.5L568.5 687.0L574.2 688.7L579.8 690.4L585.4 692.2L590.9 694.1L596.4 696.0L601.8 698.0L607.2 700.2L612.6 702.3L617.9 704.6L623.2 707.0L628.4 709.4L633.6 711.9L638.7 714.4L643.7 717.1L648.7 719.8L653.7 722.5L658.5 725.4L663.3 728.3L668.1 731.3L672.8 734.4L677.4 737.5L682.0 740.7L686.4 743.9L690.9 747.2L695.2 750.6L699.5 754.0L703.7 757.5L707.8 761.1L711.8 764.7L715.8 768.4L719.7 772.1L723.5 775.9L727.2 779.8L730.9 783.6L734.5 787.6L737.9 791.6L741.3 795.6L744.6 799.7L747.9 803.9L751.0 808.0L754.0 812.3L757.0 816.5L759.8 820.9L762.6 825.2L765.3 829.6L767.8 834.0L770.3 838.5L772.7 843.0L775.0 847.5L777.2 852.1L779.3 856.7L781.3 861.3L783.2 866.0L785.0 870.6L786.7 875.4L788.3 880.1L789.8 884.8L791.2 889.6L792.5 894.4L793.7 899.2L794.8 904.0L795.8 908.9L796.7 913.7L797.4 918.6L798.1 923.5L798.7 928.3L799.2 933.2L799.5 938.1L799.8 943.0L799.9 947.9Z" fill="#cfebea"/>
<path d="M426.9 1232.9L420.9 1232.5L415.0 1231.9L409.0 1231.3L403.1 1230.5L397.2 1229.7L391.3 1228.8L385.4 1227.9L379.6 1226.8L373.8 1225.6L368.0 1224.4L362.2 1223.1L356.5 1221.7L350.7 1220.2L345.1 1218.7L339.4 1217.0L333.8 1215.3L328.2 1213.5L322.7 1211.6L317.2 1209.7L311.8 1207.7L306.4 1205.5L301.0 1203.4L295.7 1201.1L290.4 1198.7L285.2 1196.3L280.0 1193.8L274.9 1191.3L269.9 1188.6L264.9 1185.9L259.9 1183.2L255.1 1180.3L250.3 1177.4L245.5 1174.4L240.8 1171.3L236.2 1168.2L231.6 1165.0L227.2 1161.8L222.7 1158.5L218.4 1155.1L214.1 1151.7L209.9 1148.2L205.8 1144.6L201.8 1141.0L197.8 1137.3L193.9 1133.6L190.1 1129.8L186.4 1125.9L182.7 1122.1L179.1 1118.1L175.7 1114.1L172.3 1110.1L169.0 1106.0L165.7 1101.8L162.6 1097.7L159.6 1093.4L156.6 1089.2L153.8 1084.8L151.0 1080.5L148.3 1076.1L145.8 1071.7L143.3 1067.2L140.9 1062.7L138.6 1058.2L136.4 1053.6L134.3 1049.0L132.3 1044.4L130.4 1039.7L128.6 1035.1L126.9 1030.3L125.3 1025.6L123.8 1020.9L122.4 1016.1L121.1 1011.3L119.9 1006.5L118.8 1001.7L117.8 996.8L116.9 992.0L116.2 987.1L115.5 982.2L114.9 977.4L114.4 972.5L114.1 967.6L113.8 962.7L113.7 957.8L113.6 952.9L113.7 947.9L113.8 943.0L114.1 938.1L114.4 933.2L114.9 928.3L115.5 923.5L116.2 918.6L116.9 913.7L117.8 908.9L118.8 904.0L119.9 899.2L121.1 894.4L122.4 889.6L123.8 884.8L125.3 880.1L126.9 875.4L128.6 870.6L130.4 866.0L132.3 861.3L134.3 856.7L136.4 852.1L138.6 847.5L140.9 843.0L143.3 838.5L145.8 834.0L148.3 829.6L151.0 825.2L153.8 820.9L156.6 816.5L159.6 812.3L162.6 808.0L165.7 803.9L169.0 799.7L172.3 795.6L175.7 791.6L179.1 787.6L182.7 783.6L186.4 779.8L190.1 775.9L193.9 772.1L197.8 768.4L201.8 764.7L205.8 761.1L209.9 757.5L214.1 754.0L218.4 750.6L222.7 747.2L227.2 743.9L231.6 740.7L236.2 737.5L240.8 734.4L245.5 731.3L250.3 728.3L255.1 725.4L259.9 722.5L264.9 719.8L269.9 717.1L274.9 714.4L280.0 711.9L285.2 709.4L290.4 707.0L295.7 704.6L301.0 702.3L306.4 700.2L311.8 698.0L317.2 696.0L322.7 694.1L328.2 692.2L333.8 690.4L339.4 688.7L345.1 687.0L350.7 685.5L356.5 684.0L362.2 682.6L368.0 681.3L373.8 680.1L379.6 678.9L385.4 677.8L391.3 676.9L397.2 676.0L403.1 675.2L409.0 674.4L415.0 673.8L420.9 673.2L426.9 672.8L432.9 672.4L438.8 672.1L444.8 671.9L450.8 671.7L452.0 952.85L428.0 952.85Z" fill="#fffbbd"/>
<path d="M792.5 953.2L792.4 958.0L792.3 962.8L792.0 967.6L791.7 972.3L791.2 977.1L790.7 981.8L790.0 986.6L789.3 991.3L788.4 996.0L787.4 1000.7L786.4 1005.4L785.2 1010.1L783.9 1014.7L782.6 1019.4L781.1 1024.0L779.6 1028.6L777.9 1033.1L776.2 1037.7L774.3 1042.2L772.4 1046.7L770.3 1051.2L768.2 1055.6L766.0 1060.0L763.6 1064.4L761.2 1068.7L758.7 1073.0L756.1 1077.3L753.4 1081.5L750.6 1085.7L747.8 1089.9L744.8 1094.0L741.8 1098.1L738.6 1102.1L735.4 1106.0L732.1 1110.0L728.7 1113.9L725.3 1117.7L721.7 1121.5L718.1 1125.2L714.4 1128.9L710.6 1132.5L706.7 1136.1L702.8 1139.6L698.8 1143.1L694.7 1146.5L690.5 1149.8L686.3 1153.1L682.0 1156.3L677.7 1159.5L673.2 1162.6L668.7 1165.6L664.2 1168.6L659.5 1171.5L654.9 1174.3L650.1 1177.1L645.3 1179.8L640.5 1182.4L635.5 1185.0L630.6 1187.5L625.6 1189.9L620.5 1192.2L615.4 1194.5L610.2 1196.7L605.0 1198.8L599.7 1200.9L594.4 1202.9L589.1 1204.8L583.7 1206.6L578.3 1208.4L572.8 1210.0L567.3 1211.6L561.8 1213.1L556.2 1214.6L550.6 1215.9L545.0 1217.2L539.4 1218.4L533.7 1219.5L528.0 1220.5L522.3 1221.5L516.6 1222.3L510.8 1223.1L505.1 1223.8L499.3 1224.5L493.5 1225.0L487.7 1225.5L481.9 1225.8L476.1 1226.1L470.3 1226.3L464.4 1226.5L458.6 1226.5L452.8 1226.5L446.9 1226.3L441.1 1226.1L435.3 1225.8L429.5 1225.5L423.7 1225.0L417.9 1224.5L412.1 1223.8L406.4 1223.1L400.6 1222.3L394.9 1221.5L389.2 1220.5L383.5 1219.5L377.8 1218.4L372.2 1217.2L366.6 1215.9L361.0 1214.6L355.4 1213.1L349.9 1211.6L344.4 1210.0L338.9 1208.4L333.5 1206.6L328.1 1204.8L322.8 1202.9L317.5 1200.9L312.2 1198.8L307.0 1196.7L301.8 1194.5L296.7 1192.2L291.7 1189.9L286.6 1187.5L281.7 1185.0L276.7 1182.4L271.9 1179.8L267.1 1177.1L262.3 1174.3L257.7 1171.5L253.0 1168.6L248.5 1165.6L244.0 1162.6L239.5 1159.5L235.2 1156.3L230.9 1153.1L226.7 1149.8L222.5 1146.5L218.4 1143.1L214.4 1139.6L210.5 1136.1L206.6 1132.5L202.8 1128.9L199.1 1125.2L195.5 1121.5L191.9 1117.7L188.5 1113.9L185.1 1110.0L181.8 1106.0L178.6 1102.1L175.4 1098.1L172.4 1094.0L169.4 1089.9L166.6 1085.7L163.8 1081.5L161.1 1077.3L158.5 1073.0L156.0 1068.7L153.6 1064.4L151.2 1060.0L149.0 1055.6L146.9 1051.2L144.8 1046.7L142.9 1042.2L141.0 1037.7L139.3 1033.1L137.6 1028.6L136.1 1024.0L134.6 1019.4L133.3 1014.7L132.0 1010.1L130.8 1005.4L129.8 1000.7L128.8 996.0L127.9 991.3L127.2 986.6L126.5 981.8L126.0 977.1L125.5 972.3L125.2 967.6L124.9 962.8L124.8 958.0L124.7 953.2L124.7 947.8L124.9 942.6L125.1 937.4L125.5 932.4L125.9 927.4L126.5 922.4L127.1 917.5L127.8 912.6L128.7 907.7L129.6 902.9L130.6 898.1L131.8 893.3L133.0 888.6L134.3 883.9L135.7 879.2L137.2 874.6L138.8 870.0L140.5 865.4L142.3 860.8L144.2 856.3L146.2 851.9L148.2 847.4L150.4 843.0L152.6 838.7L155.0 834.4L157.4 830.1L159.9 825.8L162.5 821.6L165.2 817.5L168.0 813.4L170.9 809.3L173.9 805.3L176.9 801.3L180.0 797.4L183.2 793.5L186.5 789.7L189.9 786.0L193.4 782.2L196.9 778.6L200.5 775.0L204.2 771.4L208.0 767.9L211.8 764.5L215.7 761.1L219.7 757.8L223.8 754.5L227.9 751.3L232.1 748.1L236.4 745.1L240.7 742.0L245.2 739.1L249.6 736.2L254.2 733.4L258.8 730.6L263.4 727.9L268.2 725.3L273.0 722.7L277.8 720.2L282.7 717.8L287.7 715.5L292.7 713.2L297.8 711.0L302.9 708.8L308.1 706.8L313.3 704.8L318.6 702.9L323.9 701.0L329.3 699.2L334.7 697.6L340.2 695.9L345.7 694.4L351.2 692.9L356.8 691.5L362.5 690.2L368.1 689.0L373.9 687.8L379.6 686.8L385.4 685.8L391.2 684.9L397.1 684.0L403.0 683.3L408.9 682.6L414.9 682.0L420.9 681.4L427.0 681.0L433.1 680.6L439.3 680.4L445.5 680.2L451.9 680.0L458.6 680.0L465.3 680.0L471.7 680.2L477.9 680.4L484.1 680.6L490.2 681.0L496.3 681.4L502.3 682.0L508.3 682.6L514.2 683.3L520.1 684.0L526.0 684.9L531.8 685.8L537.6 686.8L543.3 687.8L549.1 689.0L554.7 690.2L560.4 691.5L566.0 692.9L571.5 694.4L577.0 695.9L582.5 697.6L587.9 699.2L593.3 701.0L598.6 702.9L603.9 704.8L609.1 706.8L614.3 708.8L619.4 711.0L624.5 713.2L629.5 715.5L634.5 717.8L639.4 720.2L644.2 722.7L649.0 725.3L653.8 727.9L658.4 730.6L663.0 733.4L667.6 736.2L672.0 739.1L676.5 742.0L680.8 745.1L685.1 748.1L689.3 751.3L693.4 754.5L697.5 757.8L701.5 761.1L705.4 764.5L709.2 767.9L713.0 771.4L716.7 775.0L720.3 778.6L723.8 782.2L727.3 786.0L730.7 789.7L734.0 793.5L737.2 797.4L740.3 801.3L743.3 805.3L746.3 809.3L749.2 813.4L752.0 817.5L754.7 821.6L757.3 825.8L759.8 830.1L762.2 834.4L764.6 838.7L766.8 843.0L769.0 847.4L771.0 851.9L773.0 856.3L774.9 860.8L776.7 865.4L778.4 870.0L780.0 874.6L781.5 879.2L782.9 883.9L784.2 888.6L785.4 893.3L786.6 898.1L787.6 902.9L788.5 907.7L789.4 912.6L790.1 917.5L790.7 922.4L791.3 927.4L791.7 932.4L792.1 937.4L792.3 942.6L792.5 947.8Z" fill="#fff"/>
<path d="M440.2 665.5L464.3 674.8L440.2 687Z" fill="#fffbbd"/>
<path d="M434 1221.4L416.4 1229.9L434 1238.4Z" fill="#cfebea"/>
<path d="M457.3 953.0L421.97 719.80A287.3 235.0 0 0 1 741.60 918.05Z" fill="#e0b5d7"/>
<path d="M457.3 953.0L741.60 918.05A287.3 235.0 0 0 1 730.07 1027.29Z" fill="#fffbbd"/>
<path d="M457.3 953.0L730.07 1027.29A287.3 235.0 0 0 1 480.52 1187.24Z" fill="#d8e7c5"/>
<path d="M457.3 953.0L480.52 1187.24A287.3 235.0 0 0 1 361.45 1174.48Z" fill="#fffbbd"/>
<path d="M457.3 953.0L361.45 1174.48A287.3 235.0 0 0 1 421.97 719.80Z" fill="#d1ebeb"/>
<circle cx="455.15" cy="717.70" r="16.7" fill="#e0301f"/>
<circle cx="516.40" cy="722.20" r="16.7" fill="#e0301f"/>
<circle cx="577.50" cy="740.00" r="16.7" fill="#e0301f"/>
<circle cx="632.40" cy="765.80" r="16.7" fill="#e0301f"/>
<circle cx="679.30" cy="803.40" r="16.7" fill="#e0301f"/>
<circle cx="715.50" cy="847.50" r="16.7" fill="#e0301f"/>
<circle cx="736.60" cy="897.70" r="16.7" fill="#e0301f"/>
<circle cx="744.80" cy="953.10" r="16.7" fill="#78c05a"/>
<circle cx="737.60" cy="1005.90" r="16.7" fill="#78c05a"/>
<circle cx="715.70" cy="1056.10" r="16.7" fill="#23a455"/>
<circle cx="681.10" cy="1100.60" r="16.7" fill="#23a455"/>
<circle cx="635.10" cy="1138.10" r="16.7" fill="#23a455"/>
<circle cx="579.80" cy="1165.90" r="16.7" fill="#23a455"/>
<circle cx="517.60" cy="1183.20" r="16.7" fill="#23a455"/>
<circle cx="453.90" cy="1188.60" r="16.7" fill="#78c05a"/>
<circle cx="391.60" cy="1182.10" r="16.7" fill="#78c05a"/>
<circle cx="328.80" cy="1163.40" r="16.7" fill="#4a6cb7"/>
<circle cx="275.20" cy="1134.70" r="16.7" fill="#4a6cb7"/>
<circle cx="231.70" cy="1098.40" r="16.7" fill="#4a6cb7"/>
<circle cx="197.40" cy="1052.70" r="16.7" fill="#4a6cb7"/>
<circle cx="177.10" cy="1003.10" r="16.7" fill="#4a6cb7"/>
<circle cx="170.20" cy="951.00" r="16.7" fill="#4a6cb7"/>
<circle cx="178.00" cy="898.00" r="16.7" fill="#4a6cb7"/>
<circle cx="198.90" cy="850.40" r="16.7" fill="#4a6cb7"/>
<circle cx="232.70" cy="807.00" r="16.7" fill="#4a6cb7"/>
<circle cx="280.10" cy="768.10" r="16.7" fill="#4a6cb7"/>
<circle cx="332.60" cy="741.20" r="16.7" fill="#4a6cb7"/>
<circle cx="391.30" cy="724.10" r="16.7" fill="#4a6cb7"/>
<g font-size="17.5" font-weight="bold" text-anchor="middle" fill="#fff" stroke="#fff" stroke-width="0.3">
<text x="455.15" y="724.00">1</text>
<text x="516.40" y="728.50">2</text>
<text x="577.50" y="746.30">3</text>
<text x="632.40" y="772.10">4</text>
<text x="679.30" y="809.70">5</text>
<text x="715.50" y="853.80">6</text>
<text x="736.60" y="904.00">7</text>
<text x="744.80" y="959.40">8</text>
<text x="737.60" y="1012.20">9</text>
<text x="715.70" y="1062.40">10</text>
<text x="681.10" y="1106.90">11</text>
<text x="635.10" y="1144.40">12</text>
<text x="579.80" y="1172.20">13</text>
<text x="517.60" y="1189.50">14</text>
<text x="453.90" y="1194.90">15</text>
<text x="391.60" y="1188.40">16</text>
<text x="328.80" y="1169.70">17</text>
<text x="275.20" y="1141.00">18</text>
<text x="231.70" y="1104.70">19</text>
<text x="197.40" y="1059.00">20</text>
<text x="177.10" y="1009.40">21</text>
<text x="170.20" y="957.30">22</text>
<text x="178.00" y="904.30">23</text>
<text x="198.90" y="856.70">24</text>
<text x="232.70" y="813.30">25</text>
<text x="280.10" y="774.40">26</text>
<text x="332.60" y="747.50">27</text>
<text x="391.30" y="730.40">28</text>
</g>
<text x="117" y="682.3" font-size="16.5" font-weight="bold" text-anchor="start" textLength="138.5" lengthAdjust="spacingAndGlyphs" fill="#111">Standard 28 Day</text>
<text x="117" y="702.6" font-size="16.5" font-weight="bold" text-anchor="start" textLength="133.7" lengthAdjust="spacingAndGlyphs" fill="#111">menstrual cycle</text>
<text x="324" y="884.1" font-size="16" font-weight="bold" text-anchor="middle" textLength="162.3" lengthAdjust="spacingAndGlyphs" fill="#111">Uterine endometrium</text>
<text x="324" y="902.4" font-size="16" font-weight="bold" text-anchor="middle" textLength="65" lengthAdjust="spacingAndGlyphs" fill="#111">thickens</text>
<text x="324" y="924.6" font-size="14.3" text-anchor="middle" textLength="90" lengthAdjust="spacingAndGlyphs" fill="#111">Very low odds</text>
<text x="324" y="941.4" font-size="14.3" text-anchor="middle" textLength="86.5" lengthAdjust="spacingAndGlyphs" fill="#111">at conception</text>
<text x="545.4" y="817.5" font-size="16" font-weight="bold" text-anchor="middle" textLength="101.3" lengthAdjust="spacingAndGlyphs" fill="#111">menstruation</text>
<text x="545.4" y="835.0" font-size="16" font-weight="bold" text-anchor="middle" textLength="74" lengthAdjust="spacingAndGlyphs" fill="#111">(monthly)</text>
<text x="545.6" y="856.5" font-size="14.3" text-anchor="middle" textLength="69.3" lengthAdjust="spacingAndGlyphs" fill="#111">The lowest</text>
<text x="545.2" y="872.5" font-size="14.3" text-anchor="middle" textLength="144.5" lengthAdjust="spacingAndGlyphs" fill="#111">chances of conception</text>
<text x="663.7" y="961.4" font-size="14.3" text-anchor="middle" textLength="43.7" lengthAdjust="spacingAndGlyphs" fill="#111">Maybe</text>
<text x="663.5" y="977.8" font-size="14.3" text-anchor="middle" textLength="70.4" lengthAdjust="spacingAndGlyphs" fill="#111">conception</text>
<text x="561.2" y="1020.6" font-size="16" font-weight="bold" text-anchor="middle" textLength="93.3" lengthAdjust="spacingAndGlyphs" fill="#111">OVULATION</text>
<text x="561.4" y="1038.4" font-size="16" font-weight="bold" text-anchor="middle" textLength="121.7" lengthAdjust="spacingAndGlyphs" fill="#111">Fertility window</text>
<text x="562.2" y="1061" font-size="14.3" text-anchor="middle" textLength="76.5" lengthAdjust="spacingAndGlyphs" fill="#111">The highest</text>
<text x="562.1" y="1077.4" font-size="14.3" text-anchor="middle" textLength="144.9" lengthAdjust="spacingAndGlyphs" fill="#111">chances of conception</text>
<text x="430.4" y="1126.2" font-size="14.3" text-anchor="middle" textLength="42.7" lengthAdjust="spacingAndGlyphs" fill="#111">Maybe</text>
<text x="430.5" y="1142.4" font-size="14.3" text-anchor="middle" textLength="69.5" lengthAdjust="spacingAndGlyphs" fill="#111">conception</text>
<defs>
<path id="pcd" d="M457.50 695.00L462.96 695.04L468.42 695.16L473.88 695.35L479.33 695.63L484.78 695.98L490.22 696.41L495.65 696.92L501.06 697.51L506.46 698.18L511.85 698.92L517.22 699.74L522.58 700.64L527.91 701.61L533.22 702.66L538.51 703.79L543.77 704.99L549.01 706.27L554.22 707.63L559.40 709.06L564.55 710.56L569.67 712.14L574.75 713.79L579.80 715.51L584.81 717.31L589.78 719.17L594.71 721.11L599.60 723.12L604.44 725.20L609.25 727.35L614.00 729.57L618.71 731.85L623.36 734.20L627.97 736.62L632.53 739.11L637.03 741.66L641.48 744.27L645.87 746.95L650.20 749.69L654.48 752.50L658.69 755.36"/>
<path id="plu" d="M149.66 1086.56L145.50 1079.90L141.56 1073.17L137.84 1066.35L134.33 1059.45L131.04 1052.48L127.98 1045.44L125.14 1038.34L122.53 1031.17L120.15 1023.96L118.00 1016.70L116.08 1009.39L114.40 1002.04L112.95 994.66L111.73 987.25L110.75 979.82L110.01 972.37L109.51 964.91L109.24 957.43L109.22 949.96L109.43 942.49L109.88 935.02L110.57 927.57L111.49 920.13L112.65 912.71L114.05 905.33L115.68 897.97L117.54 890.66L119.64 883.38L121.97 876.16L124.53 868.98L127.32 861.87L130.33 854.81L133.57 847.82L137.02 840.91L140.70 834.07L144.59 827.31L148.70 820.64L153.02 814.06L157.54 807.58L162.28 801.19"/>
<path id="pfo" d="M772.09 830.62L775.88 837.44L779.44 844.35L782.79 851.33L785.91 858.38L788.81 865.49L791.47 872.66L793.91 879.89L796.12 887.17L798.10 894.50L799.84 901.86L801.34 909.26L802.61 916.69L803.65 924.14L804.44 931.61L805.00 939.10L805.32 946.60L805.40 954.10L805.24 961.60L804.84 969.10L804.20 976.58L803.33 984.05L802.22 991.49L800.87 998.91L799.28 1006.30L797.46 1013.65L795.41 1020.96L793.12 1028.22L790.61 1035.43L787.87 1042.59L784.89 1049.68L781.70 1056.71L778.28 1063.66L774.64 1070.54L770.78 1077.34L766.71 1084.05L762.43 1090.68L757.93 1097.21L753.23 1103.64L748.33 1109.96L743.23 1116.18"/>
</defs>
<text font-size="17.5" font-weight="bold" fill="#000"><textPath href="#pcd" startOffset="44" textLength="90" lengthAdjust="spacingAndGlyphs">cycle days</textPath></text>
<text font-size="17.5" font-weight="bold" fill="#000" text-anchor="middle"><textPath href="#plu" startOffset="50%" textLength="108.5" lengthAdjust="spacingAndGlyphs">Luteal phase</textPath></text>
<text font-size="17.5" font-weight="bold" fill="#000" text-anchor="middle"><textPath href="#pfo" startOffset="50%" textLength="135.5" lengthAdjust="spacingAndGlyphs">Follicular phase</textPath></text>
<g class="wm" fill="#fff" stroke="#8a88a0" stroke-opacity="0.14" stroke-width="1">
<g transform="translate(97.5 100) rotate(-45)" fill-opacity="0.2"><rect x="-86" y="-15" width="36" height="29" rx="7"/><circle cx="-68" cy="0" r="8.5"/><text x="-46" y="13" font-size="37" font-weight="bold" font-style="italic" textLength="112" lengthAdjust="spacingAndGlyphs">123RF</text><circle cx="76" cy="-19" r="6"/></g>
<g transform="translate(487 97) rotate(-45)"><rect x="-50" y="-38" width="100" height="76" rx="20" fill-opacity="0.12"/><rect x="-38" y="-27" width="76" height="54" rx="14" fill-opacity="0.07"/><circle cx="0" cy="0" r="20" fill-opacity="0.13"/></g>
<g transform="translate(838 100) rotate(-45)" fill-opacity="0.2"><rect x="-86" y="-15" width="36" height="29" rx="7"/><circle cx="-68" cy="0" r="8.5"/><text x="-46" y="13" font-size="37" font-weight="bold" font-style="italic" textLength="112" lengthAdjust="spacingAndGlyphs">123RF</text><circle cx="76" cy="-19" r="6"/></g>
<g transform="translate(100 470) rotate(-45)"><rect x="-50" y="-38" width="100" height="76" rx="20" fill-opacity="0.12"/><rect x="-38" y="-27" width="76" height="54" rx="14" fill-opacity="0.07"/><circle cx="0" cy="0" r="20" fill-opacity="0.13"/></g>
<g transform="translate(465 466) rotate(-45)" fill-opacity="0.2"><rect x="-86" y="-15" width="36" height="29" rx="7"/><circle cx="-68" cy="0" r="8.5"/><text x="-46" y="13" font-size="37" font-weight="bold" font-style="italic" textLength="112" lengthAdjust="spacingAndGlyphs">123RF</text><circle cx="76" cy="-19" r="6"/></g>
<g transform="translate(840 467) rotate(-45)"><rect x="-50" y="-38" width="100" height="76" rx="20" fill-opacity="0.12"/><rect x="-38" y="-27" width="76" height="54" rx="14" fill-opacity="0.07"/><circle cx="0" cy="0" r="20" fill-opacity="0.13"/></g>
<g transform="translate(97 831) rotate(-45)" fill-opacity="0.2"><rect x="-86" y="-15" width="36" height="29" rx="7"/><circle cx="-68" cy="0" r="8.5"/><text x="-46" y="13" font-size="37" font-weight="bold" font-style="italic" textLength="112" lengthAdjust="spacingAndGlyphs">123RF</text><circle cx="76" cy="-19" r="6"/></g>
<g transform="translate(470 840) rotate(-45)"><rect x="-50" y="-38" width="100" height="76" rx="20" fill-opacity="0.12"/><rect x="-38" y="-27" width="76" height="54" rx="14" fill-opacity="0.07"/><circle cx="0" cy="0" r="20" fill-opacity="0.13"/></g>
<g transform="translate(833 831) rotate(-45)" fill-opacity="0.2"><rect x="-86" y="-15" width="36" height="29" rx="7"/><circle cx="-68" cy="0" r="8.5"/><text x="-46" y="13" font-size="37" font-weight="bold" font-style="italic" textLength="112" lengthAdjust="spacingAndGlyphs">123RF</text><circle cx="76" cy="-19" r="6"/></g>
<g transform="translate(107 1207) rotate(-45)"><rect x="-50" y="-38" width="100" height="76" rx="20" fill-opacity="0.12"/><rect x="-38" y="-27" width="76" height="54" rx="14" fill-opacity="0.07"/><circle cx="0" cy="0" r="20" fill-opacity="0.13"/></g>
<g transform="translate(466 1197) rotate(-45)" fill-opacity="0.2"><rect x="-86" y="-15" width="36" height="29" rx="7"/><circle cx="-68" cy="0" r="8.5"/><text x="-46" y="13" font-size="37" font-weight="bold" font-style="italic" textLength="112" lengthAdjust="spacingAndGlyphs">123RF</text><circle cx="76" cy="-19" r="6"/></g>
<g transform="translate(840 1207) rotate(-45)"><rect x="-50" y="-38" width="100" height="76" rx="20" fill-opacity="0.12"/><rect x="-38" y="-27" width="76" height="54" rx="14" fill-opacity="0.07"/><circle cx="0" cy="0" r="20" fill-opacity="0.13"/></g>
</g>
<path d="M164.8 167.0L397.7 399.0M418.6 162.9L168.4 404.1M552.6 165.7L774.4 398.3M770.2 166.5L532.8 399.5M167.2 537.2L402.8 772.8M397.6 532.9L164.4 764.1M532.4 532.9L765.6 764.1M773.1 534.4L536.9 772.6M164.4 897.9L398.6 1130.1M403.2 907.5L173.8 1139.5M537.4 906.9L772.6 1140.1M765.7 898.1L533.3 1129.9" stroke="#fff" stroke-opacity="0.3" stroke-width="1" fill="none"/>
</svg>
</body></html>
